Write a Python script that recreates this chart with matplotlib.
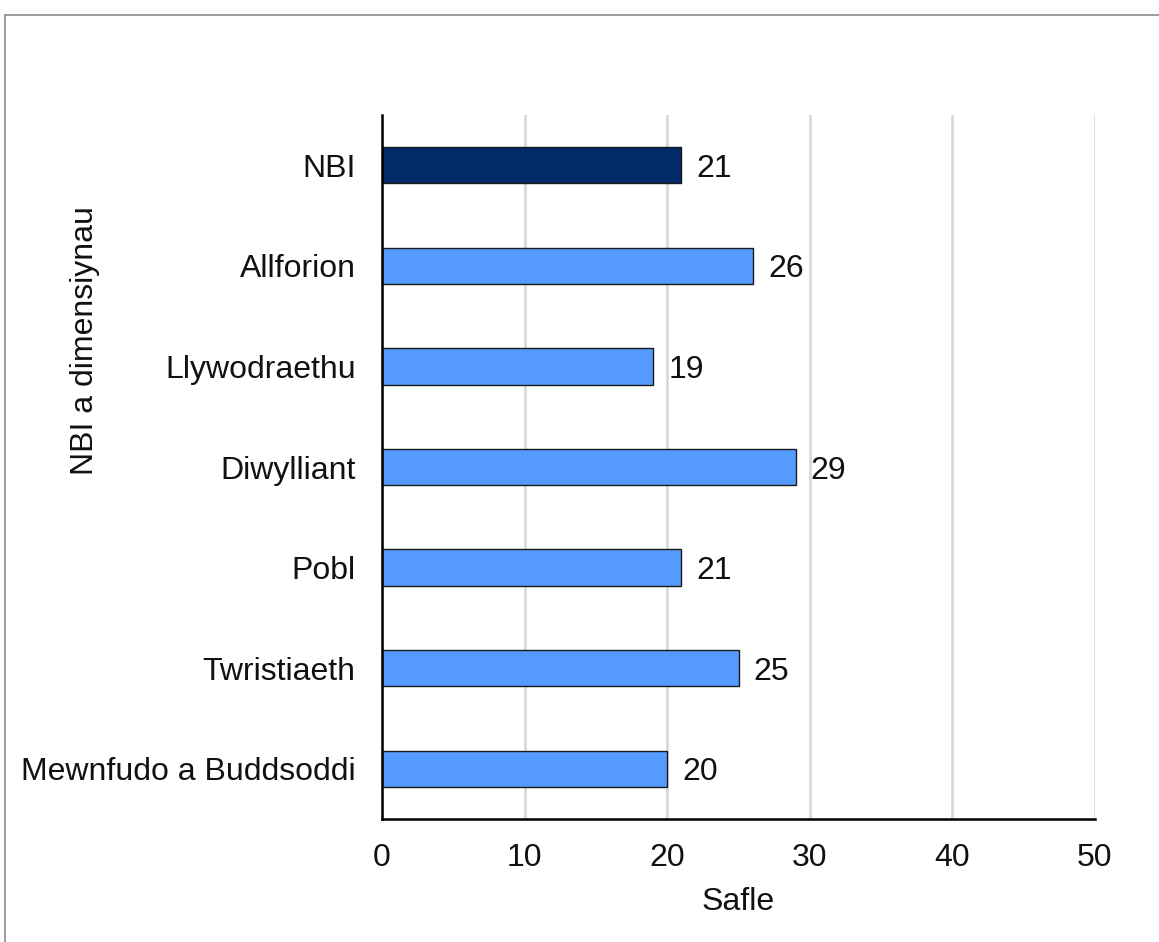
import matplotlib
matplotlib.use("Agg")
import matplotlib.pyplot as plt
from matplotlib.lines import Line2D

# Data
categories = ["NBI", "Allforion", "Llywodraethu", "Diwylliant",
              "Pobl", "Twristiaeth", "Mewnfudo a Buddsoddi"]
values = [21, 26, 19, 29, 21, 25, 20]
bar_colors = ["#002B66", "#559AFF", "#559AFF", "#559AFF",
              "#559AFF", "#559AFF", "#559AFF"]
x_ticks = [0, 10, 20, 30, 40, 50]

plt.rcParams['font.family'] = ['Liberation Sans', 'DejaVu Sans']
FS = 23

W, H = 1159, 942
fig = plt.figure(figsize=(W / 100, H / 100), dpi=100)
ax = fig.add_axes([382 / W, 1 - 819 / H, (1095 - 382) / W, (819 - 115) / H])

ypos = list(range(len(categories)))
ax.barh(ypos, values, height=0.36, color=bar_colors,
        edgecolor="#1A1A1A", linewidth=1.0, zorder=3)

for y, v in zip(ypos, values):
    ax.annotate(str(v), (v, y), xytext=(11, 0), textcoords="offset points",
                va="center_baseline", ha="left", fontsize=FS, color="#111111")

ax.set_ylim(len(categories) - 0.5, -0.5)
ax.set_xlim(0, 50)
ax.set_yticks(ypos)
ax.set_yticklabels(categories)
ax.set_xticks(x_ticks)
ax.tick_params(axis="both", length=0, labelsize=FS, colors="#111111")
ax.tick_params(axis="y", pad=19)
ax.tick_params(axis="x", pad=17)

ax.grid(axis="x", color="#D9D9D9", linewidth=2, zorder=0)
ax.set_axisbelow(True)
for s in ["top", "right"]:
    ax.spines[s].set_visible(False)
for s in ["left", "bottom"]:
    ax.spines[s].set_color("black")
    ax.spines[s].set_linewidth(1.8)
    ax.spines[s].set_zorder(4)

ax.set_xlabel("Safle", fontsize=FS, color="#111111", labelpad=10)
ax.set_ylabel("NBI a dimensiynau", fontsize=FS, color="#111111")
ax.yaxis.set_label_coords(-0.395, 0.68)

# outer border (top and left only)
fig.add_artist(Line2D([5 / W, 1], [1 - 15 / H, 1 - 15 / H], color="#8C8C8C", linewidth=1.2))
fig.add_artist(Line2D([5 / W, 5 / W], [0, 1 - 15 / H], color="#8C8C8C", linewidth=1.2))

fig.savefig("out.png", dpi=100)
